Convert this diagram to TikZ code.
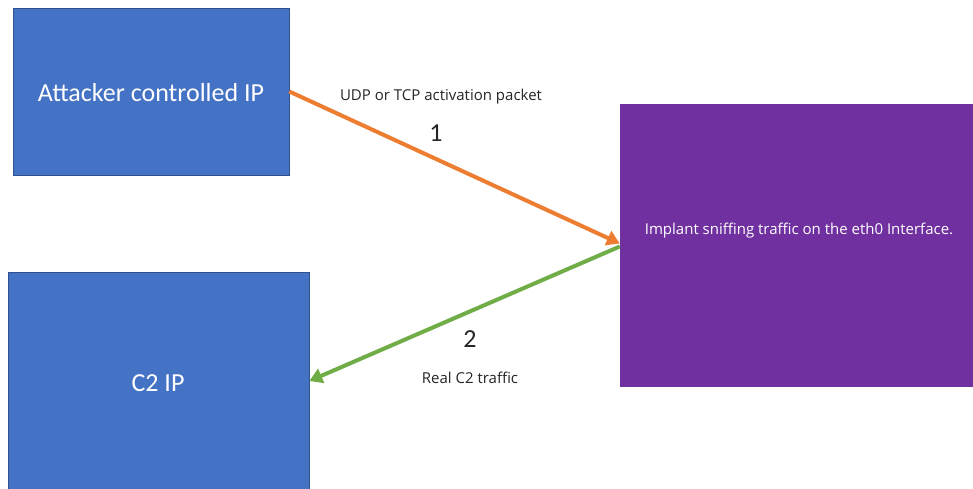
\documentclass[tikz,border=0pt]{standalone}
\usepackage{fontspec}
\setmainfont{Carlito}
\newfontfamily\labelfont{Open Sans}
\usetikzlibrary{arrows.meta}
\definecolor{boxblue}{HTML}{4472C4}
\definecolor{boxedge}{HTML}{2F528F}
\definecolor{implant}{HTML}{7030A0}
\definecolor{arrorange}{HTML}{ED7D31}
\definecolor{arrgreen}{HTML}{70AD47}
\definecolor{labeltext}{HTML}{262626}
\begin{document}
\begin{tikzpicture}[x=1pt,y=-1pt,
  bluebox/.style={rectangle,fill=boxblue,draw=boxedge,line width=0.6pt,inner sep=0pt},
  boxtext/.style={text=white,font=\fontsize{26}{28}\selectfont,inner sep=0pt},
  purplebox/.style={rectangle,fill=implant,draw=none,inner sep=0pt},
  imptextstyle/.style={text=white,font=\labelfont\fontsize{15}{17}\selectfont,inner sep=0pt},
  flow/.style={line width=4pt,-{Triangle[length=13pt,width=15pt]}},
  lbl/.style={text=labeltext,font=\labelfont\fontsize{15}{17}\selectfont,inner sep=0pt},
  num/.style={text=labeltext,font=\fontsize{26}{28}\selectfont,inner sep=0pt}]
\useasboundingbox[fill=white] (0,0) rectangle (973,489);
\node[bluebox,minimum width=276pt,minimum height=167pt] (att) at (151,91.5) {};
\node[boxtext] (atttext) at (151,93) {Attacker controlled IP};
\node[bluebox,minimum width=301pt,minimum height=218pt] (c2) at (158.5,381) {};
\node[boxtext] (c2text) at (158,383) {C2 IP};
\node[purplebox,minimum width=353pt,minimum height=283pt] (imp) at (796.5,245.5) {};
\node[imptextstyle] (imptext) at (799,231) {Implant sniffing traffic on the eth0 Interface.};
\draw[flow,draw=arrorange] (att.east) -- ([yshift=2pt]imp.west);
\draw[flow,draw=arrgreen] ([yshift=-1pt]imp.west) -- (c2.east);
\node[lbl] (l1) at (441,97) {UDP or TCP activation packet};
\node[num] (n1) at (436,133) {1};
\node[num] (n2) at (470,339) {2};
\node[lbl] (l2) at (470,378) {Real C2 traffic};
\end{tikzpicture}
\end{document}
